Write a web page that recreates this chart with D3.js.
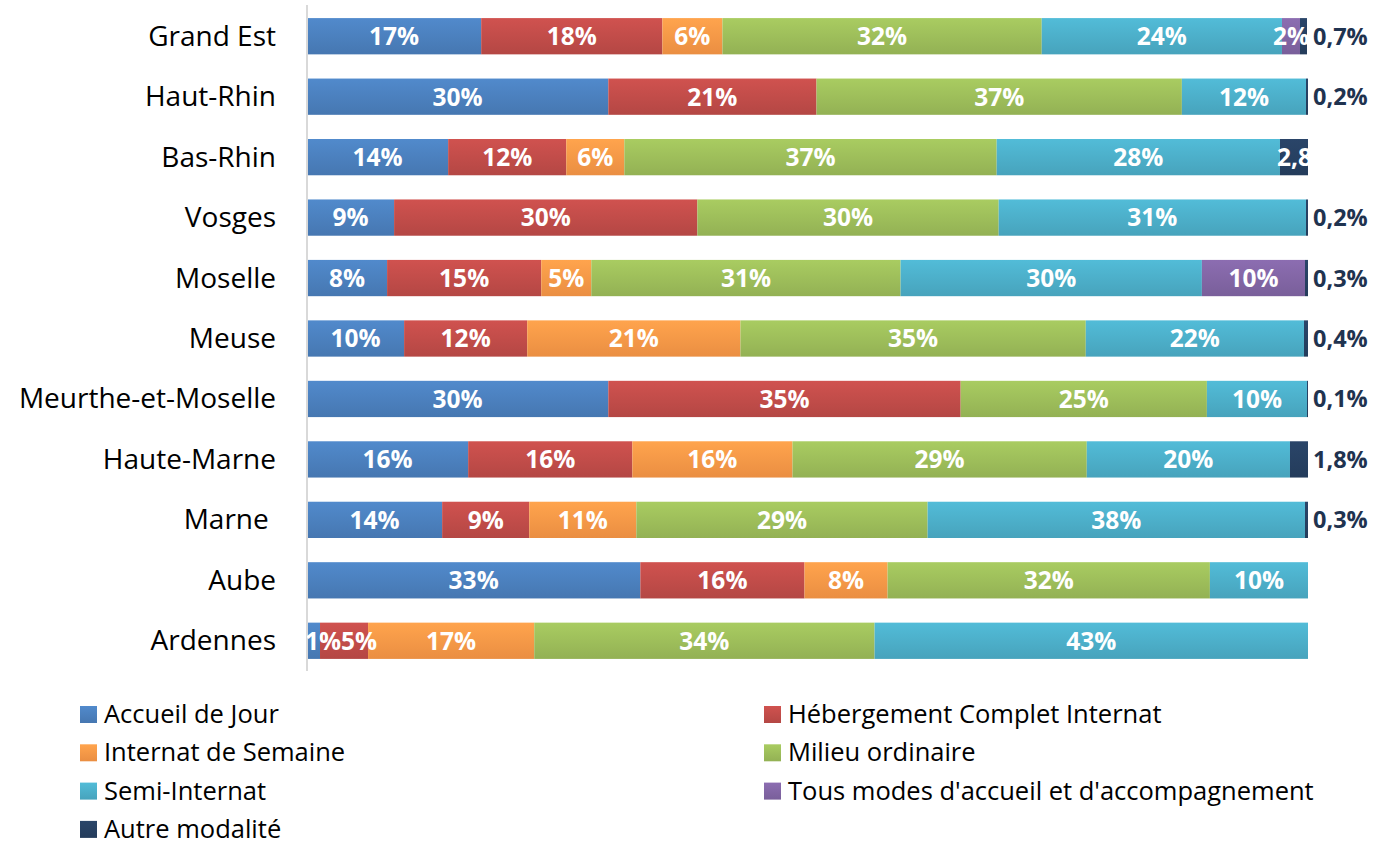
<!DOCTYPE html>
<html>
<head>
<meta charset="utf-8">
<script src="https://cdn.jsdelivr.net/npm/d3@7"></script>
<style>
  body { margin: 0; background: #fff; }
  svg { font-family: "Open Sans", "Liberation Sans", sans-serif; }
</style>
</head>
<body>
<div id="chart"></div>
<script>
// categories (top to bottom)
var categories = ["Grand Est", "Haut-Rhin", "Bas-Rhin", "Vosges", "Moselle", "Meuse",
  "Meurthe-et-Moselle", "Haute-Marne", "Marne ", "Aube", "Ardennes"];

var seriesNames = ["Accueil de Jour", "Hébergement Complet Internat", "Internat de Semaine",
  "Milieu ordinaire", "Semi-Internat", "Tous modes d'accueil et d'accompagnement", "Autre modalité"];

// values in % per series, same order as categories
var accueilJour   = [17.4, 30.1, 14.1,  8.7,  8.0,  9.7, 30.1, 16.1, 13.5, 33.3,  1.3];
var hebergement   = [18.1, 20.8, 11.8, 30.3, 15.4, 12.3, 35.2, 16.4,  8.7, 16.4,  4.8];
var internatSem   = [ 6.0,  0,    5.8,  0,    5.0, 21.3,  0,   16.0, 10.7,  8.3, 16.6];
var milieuOrd     = [31.9, 36.5, 37.2, 30.1, 30.9, 34.5, 24.6, 29.4, 29.1, 32.2, 34.0];
var semiInternat  = [24.0, 12.4, 28.3, 30.7, 30.1, 21.8, 10.0, 20.3, 37.7,  9.8, 43.3];
var tousModes     = [ 1.8,  0,    0,    0,   10.3,  0,    0,    0,    0,    0,    0  ];
var autreModalite = [ 0.7,  0.2,  2.8,  0.2,  0.3,  0.4,  0.1,  1.8,  0.3,  0,    0  ];

var seriesColors = ["#4a7ebb", "#be4b48", "#f79646", "#9bbb59", "#4bacc6", "#8064a2", "#263f60"];

var allSeries = [accueilJour, hebergement, internatSem, milieuOrd, semiInternat, tousModes, autreModalite];

var width = 1373, height = 843;
var margin = {left: 307, right: 65, top: 6, bottom: 172};

var rows = categories.map(function(c, i) {
  var r = {cat: c};
  seriesNames.forEach(function(s, j) { r[s] = allSeries[j][i]; });
  return r;
});

var stack = d3.stack().keys(seriesNames);
var layers = stack(rows);

var x = d3.scaleLinear().domain([0, 100]).range([margin.left, width - margin.right]);
var y = d3.scaleBand().domain(categories)
  .range([margin.top, height - margin.bottom]).paddingInner(0.4).paddingOuter(0.2);

var svg = d3.select("#chart").append("svg")
  .attr("width", width).attr("height", height);

var defs = svg.append("defs");
seriesColors.forEach(function(c, j) {
  var g = defs.append("linearGradient").attr("id", "grad" + j)
    .attr("x1", 0).attr("y1", 0).attr("x2", 0).attr("y2", 1);
  g.append("stop").attr("offset", "0%").attr("stop-color", d3.color(c).brighter(0.25));
  g.append("stop").attr("offset", "100%").attr("stop-color", d3.color(c).darker(0.15));
});
defs.append("clipPath").attr("id", "plotClip")
  .append("rect").attr("x", x(0)).attr("y", 0).attr("width", x(100) - x(0)).attr("height", height);

// bars
var layer = svg.append("g").selectAll("g")
  .data(layers).enter().append("g")
  .attr("fill", function(d, j) { return "url(#grad" + j + ")"; });

layer.selectAll("rect")
  .data(function(d) { return d.filter(function(p) { return p[1] - p[0] > 0; }); })
  .enter().append("rect")
  .attr("x", function(d) { return x(d[0]); })
  .attr("y", function(d) { return y(d.data.cat); })
  .attr("width", function(d) { return x(d[1]) - x(d[0]); })
  .attr("height", y.bandwidth());

// axis line
svg.append("line")
  .attr("x1", x(0)).attr("x2", x(0))
  .attr("y1", margin.top - 1).attr("y2", height - margin.bottom)
  .attr("stroke", "#d9d9d9").attr("stroke-width", 2);

// category labels
var yAxis = svg.append("g")
  .attr("transform", "translate(" + (x(0) - 31) + ",0)")
  .call(d3.axisLeft(y).tickSize(0).tickPadding(0));
yAxis.select(".domain").remove();
yAxis.selectAll("text")
  .attr("font-size", 28).attr("fill", "#000")
  .attr("font-family", "'Open Sans', sans-serif")
  .attr("dy", "0.34em")
  .style("white-space", "pre");

function fmt(v) { return (Math.round(v * 10) / 10).toString().replace(".", ",") + "%"; }

// value labels
var labels = svg.append("g").attr("clip-path", "url(#plotClip)")
  .attr("font-weight", "bold").attr("font-size", 24.5).attr("fill", "#fff")
  .attr("text-anchor", "middle");

// per row: keep labels from overlapping each other (like excel does for tiny slices)
var lastRight = {};
layers.forEach(function(L, j) {
  if (j == 6) return; // autre modalité handled below
  L.forEach(function(p) {
    var v = p[1] - p[0];
    if (v <= 0) return;
    var t = labels.append("text")
      .attr("y", y(p.data.cat) + y.bandwidth() / 2)
      .attr("dy", "0.36em")
      .text(Math.round(v) + "%");
    var w = t.node().getComputedTextLength();
    var cx = (x(p[0]) + x(p[1])) / 2;
    var minLeft = lastRight[p.data.cat] != null ? lastRight[p.data.cat] : x(0) - 2;
    if (cx - w / 2 < minLeft) cx = minLeft + w / 2;
    lastRight[p.data.cat] = cx + w / 2;
    t.attr("x", cx);
  });
});

// autre modalité labels: inside when big enough, else outside the bar
layers[6].forEach(function(p) {
  var v = p[1] - p[0];
  if (v <= 0) return;
  var cy = y(p.data.cat) + y.bandwidth() / 2;
  if (v > 2) {
    labels.append("text")
      .attr("text-anchor", "start")
      .attr("x", x(p[0]) - 3)
      .attr("y", cy).attr("dy", "0.36em")
      .text(fmt(v));
  } else {
    svg.append("text")
      .attr("x", x(100) + 5).attr("y", cy).attr("dy", "0.36em")
      .attr("font-weight", "bold").attr("font-size", 23.5).attr("fill", "#1f3350")
      .text(fmt(v));
  }
});

// legend
var legend = svg.append("g").attr("font-size", 25.5);
seriesNames.forEach(function(s, j) {
  var col = j % 2, row = Math.floor(j / 2);
  var lx = col == 0 ? 80 : 764, ly = 714 + row * 38.3;
  legend.append("rect")
    .attr("x", lx).attr("y", ly - 8).attr("width", 17).attr("height", 17)
    .attr("fill", "url(#grad" + j + ")");
  legend.append("text")
    .attr("x", lx + 24).attr("y", ly).attr("dy", "0.36em")
    .attr("fill", "#000")
    .text(s);
});
</script>
</body>
</html>
